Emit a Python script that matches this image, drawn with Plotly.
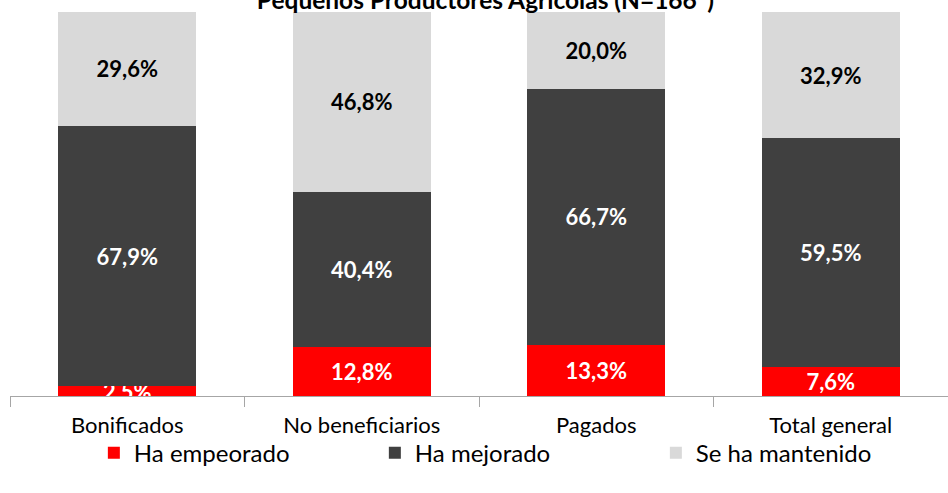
import plotly.graph_objects as go

categories = ["Bonificados", "No beneficiarios", "Pagados", "Total general"]
series_names = ["Ha empeorado", "Ha mejorado", "Se ha mantenido"]
empeorado = [2.5, 12.8, 13.3, 7.6]
mejorado = [67.9, 40.4, 66.7, 59.5]
mantenido = [29.6, 46.8, 20.0, 32.9]

colors = ["#FF0000", "#404040", "#D9D9D9"]
text_colors = ["white", "white", "black"]
FONT = "Lato"

fig = go.Figure()
for name, vals, col, tcol in zip(series_names, [empeorado, mejorado, mantenido], colors, text_colors):
    fig.add_trace(go.Bar(
        x=categories, y=vals, name=name,
        marker=dict(color=col, line=dict(width=0)),
        text=[f"{v:.1f}%".replace(".", ",") for v in vals],
        textposition="inside", insidetextanchor="middle",
        textfont=dict(color=tcol, size=22, family=FONT),
        texttemplate="<b>%{text}</b>",
        cliponaxis=False,
    ))

fig.update_layout(
    barmode="stack",
    bargap=0.41,
    width=948, height=493,
    margin=dict(l=10, r=0, t=12, b=97),
    plot_bgcolor="white", paper_bgcolor="white",
    font=dict(family=FONT, color="#000000"),
    uniformtext=dict(minsize=22, mode="show"),
    title=dict(text="<b>Pequeños Productores Agrícolas (N=166*)</b>",
               x=0.512, xref="container", xanchor="center",
               y=1.0, yref="container", yanchor="middle",
               font=dict(size=24.5, family=FONT, color="black")),
    xaxis=dict(showline=True, linecolor="#A6A6A6", linewidth=1,
               ticks="outside", tickson="boundaries", ticklen=10, tickcolor="#A6A6A6",
               ticklabelstandoff=10, automargin=False,
               tickfont=dict(size=22, family=FONT, color="black")),
    yaxis=dict(range=[0, 100], visible=False, automargin=False),
    legend=dict(orientation="h", x=0.099, xanchor="left", xref="container",
                y=0.081, yanchor="middle", yref="container",
                traceorder="normal", bgcolor="rgba(0,0,0,0)",
                entrywidth=236, font=dict(size=24, family=FONT, color="black"),
                itemwidth=30),
    showlegend=True,
)

fig.write_html("out.html", config={"displayModeBar": False},
               post_script="document.body.style.margin='0';")
